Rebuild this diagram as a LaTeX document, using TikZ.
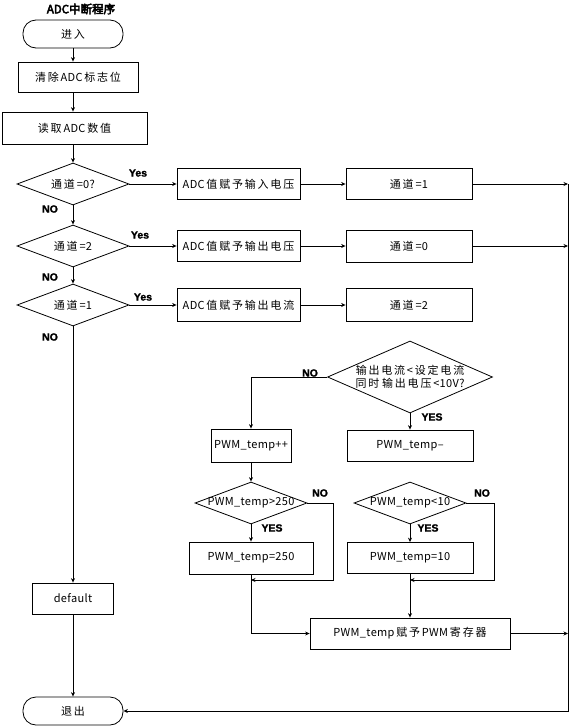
\documentclass[tikz,border=0pt]{standalone}
\usepackage{fontspec}
\setmainfont{Noto Sans CJK SC}[LetterSpace=3]
\newfontfamily\titlefont{Noto Sans CJK SC}[FakeBold=4]
\newfontfamily\tagfont{Liberation Sans}[BoldFeatures={FakeBold=1.5}]
% a little air round the Chinese characters
\newXeTeXintercharclass\zhclass
\newcount\zhcode
\zhcode="4E00
\loop
  \XeTeXcharclass\zhcode=\zhclass
  \ifnum\zhcode<"9FFF \advance\zhcode by 1
\repeat
\XeTeXinterchartokenstate=1
\XeTeXinterchartoks \zhclass \zhclass = {\kern1.8pt}
\XeTeXinterchartoks \zhclass 0 = {\kern1.8pt}
\XeTeXinterchartoks 0 \zhclass = {\kern1.8pt}
\newcommand\tightzh{\XeTeXinterchartokenstate=0\relax}
\usepackage{tikz}
\usetikzlibrary{shapes,arrows.meta}

\begin{document}
\begin{tikzpicture}[x=1pt, y=-1pt, line width=0.8pt,
    >={Stealth[length=4.5pt,width=4pt]},
    box/.style={draw, rectangle, inner sep=0pt, font=\fontsize{11}{13}\selectfont},
    term/.style={draw, rectangle, rounded corners=13pt, minimum width=100pt,
        minimum height=28pt, font=\fontsize{11}{13}\selectfont},
    decision/.style={draw, diamond, inner xsep=-8pt, inner ysep=0pt, aspect=2.7,
        minimum width=112pt, minimum height=42pt, font=\fontsize{11}{13}\selectfont},
    tag/.style={font=\tagfont\bfseries\fontsize{10.5}{12}\selectfont}]
    \useasboundingbox (0,0) rectangle (572,728);

    % Title
    \node[font=\tightzh\titlefont\fontsize{11.5}{13}\selectfont] (title) at (81,9) {ADC中断程序};

    % Entry and reading
    \node[term] (start) at (73,34) {进入};
    \node[box, minimum width=120pt, minimum height=30pt] (clr) at (78,77) {清除ADC标志位};
    \node[box, minimum width=145pt, minimum height=32pt] (read) at (74.5,128) {读取ADC数值};

    % Channel tests
    \node[decision] (ch0) at (73,184) {通道=0?};
    \node[decision] (ch2) at (73,246) {通道=2};
    \node[decision] (ch1) at (73,305) {通道=1};
    \node[box, minimum width=81pt, minimum height=31pt] (dflt) at (73,598.5) {default};
    \node[term] (stop) at (73,711) {退出};

    % Store the value
    \node[box, minimum width=123pt, minimum height=31pt] (vin) at (238.5,184) {ADC值赋予输入电压};
    \node[box, minimum width=123pt, minimum height=31pt] (vout) at (238.5,246) {ADC值赋予输出电压};
    \node[box, minimum width=123pt, minimum height=33pt] (iout) at (238.5,305) {ADC值赋予输出电流};

    % Next channel
    \node[box, minimum width=126pt, minimum height=31pt] (nx1) at (409,184) {通道=1};
    \node[box, minimum width=126pt, minimum height=32pt] (nx0) at (409,246) {通道=0};
    \node[box, minimum width=126pt, minimum height=33pt] (nx2) at (409,305) {通道=2};

    % Current and voltage limit
    \node[decision, minimum width=165pt, minimum height=72pt, aspect=2.3,
        label={[align=center, font=\fontsize{11}{13.5}\selectfont]center:{输出电流<设定电流\\同时 输出电压<10V?}}]
        (lim) at (410,377) {};
    \node[box, minimum width=80pt, minimum height=33pt] (inc) at (251,445.5) {PWM\_temp++};
    \node[box, minimum width=126pt, minimum height=31pt] (dec) at (410,445.5) {PWM\_temp–};
    \node[decision] (hi) at (251,503) {PWM\_temp>250};
    \node[decision] (lo) at (410,503) {PWM\_temp<10};
    \node[box, minimum width=124pt, minimum height=32pt] (set250) at (251,558) {PWM\_temp=250};
    \node[box, minimum width=126pt, minimum height=31pt] (set10) at (410,558) {PWM\_temp=10};
    \node[box, minimum width=200pt, minimum height=31pt] (load) at (410,633.5) {PWM\_temp赋予PWM寄存器};

    % Branch labels
    \node[tag] (y0) at (138,173) {Yes};
    \node[tag] (y2) at (140,235) {Yes};
    \node[tag] (y1) at (143,297) {Yes};
    \node[tag] (n0) at (50,209) {NO};
    \node[tag] (n2) at (50,277) {NO};
    \node[tag] (n1) at (50,337) {NO};
    \node[tag] (nl) at (310,373) {NO};
    \node[tag] (yl) at (432,417) {YES};
    \node[tag] (nh) at (320,493) {NO};
    \node[tag] (yh) at (272,528) {YES};
    \node[tag] (nlo) at (482,493) {NO};
    \node[tag] (ylo) at (428,528) {YES};

    % Junctions
    \coordinate (bus) at (568,184);
    \coordinate (j250) at (251,580);
    \coordinate (j10) at (410,580);

    % Main column
    \draw[->] (start.south) -- (start |- clr.north);
    \draw[->] (start |- clr.south) -- (start |- read.north);
    \draw[->] (start |- read.south) -- (ch0.north);
    \draw[->] (ch0.south) -- (ch2.north);
    \draw[->] (ch2.south) -- (ch1.north);
    \draw[->] (ch1.south) -- (dflt.north);
    \draw[->] (dflt.south) -- (stop.north);

    % Yes branches
    \draw[->] (ch0.east) -- (vin.west);
    \draw[->] (ch2.east) -- (vout.west);
    \draw[->] (ch1.east) -- (iout.west);
    \draw[->] (vin.east) -- (nx1.west);
    \draw[->] (vout.east) -- (nx0.west);
    \draw[->] (iout.east) -- (nx2.west);

    % Return line
    \draw[->] (nx1.east) -- (bus);
    \draw[->] (nx0.east) -- (nx0.east -| bus);
    \draw[->] (load.east) -- (load.east -| bus);
    \draw[->] (bus) -- (bus |- stop.east) -- (stop.east);

    % PWM adjust
    \draw[->] (lim.west) -| (inc.north);
    \draw[->] (lim.south) -- (dec.north);
    \draw[->] (inc.south) -- (hi.north);
    \draw[->] (hi.south) -- (set250.north);
    \draw[->] (lo.south) -- (set10.north);
    \draw[->] (hi.east) -- ++(26,0) |- (j250);
    \draw[->] (lo.east) -- ++(28,0) |- (j10);
    \draw[->] (set250.south) |- (load.west);
    \draw[->] (set10.south) -- (load.north);
\end{tikzpicture}
\end{document}
